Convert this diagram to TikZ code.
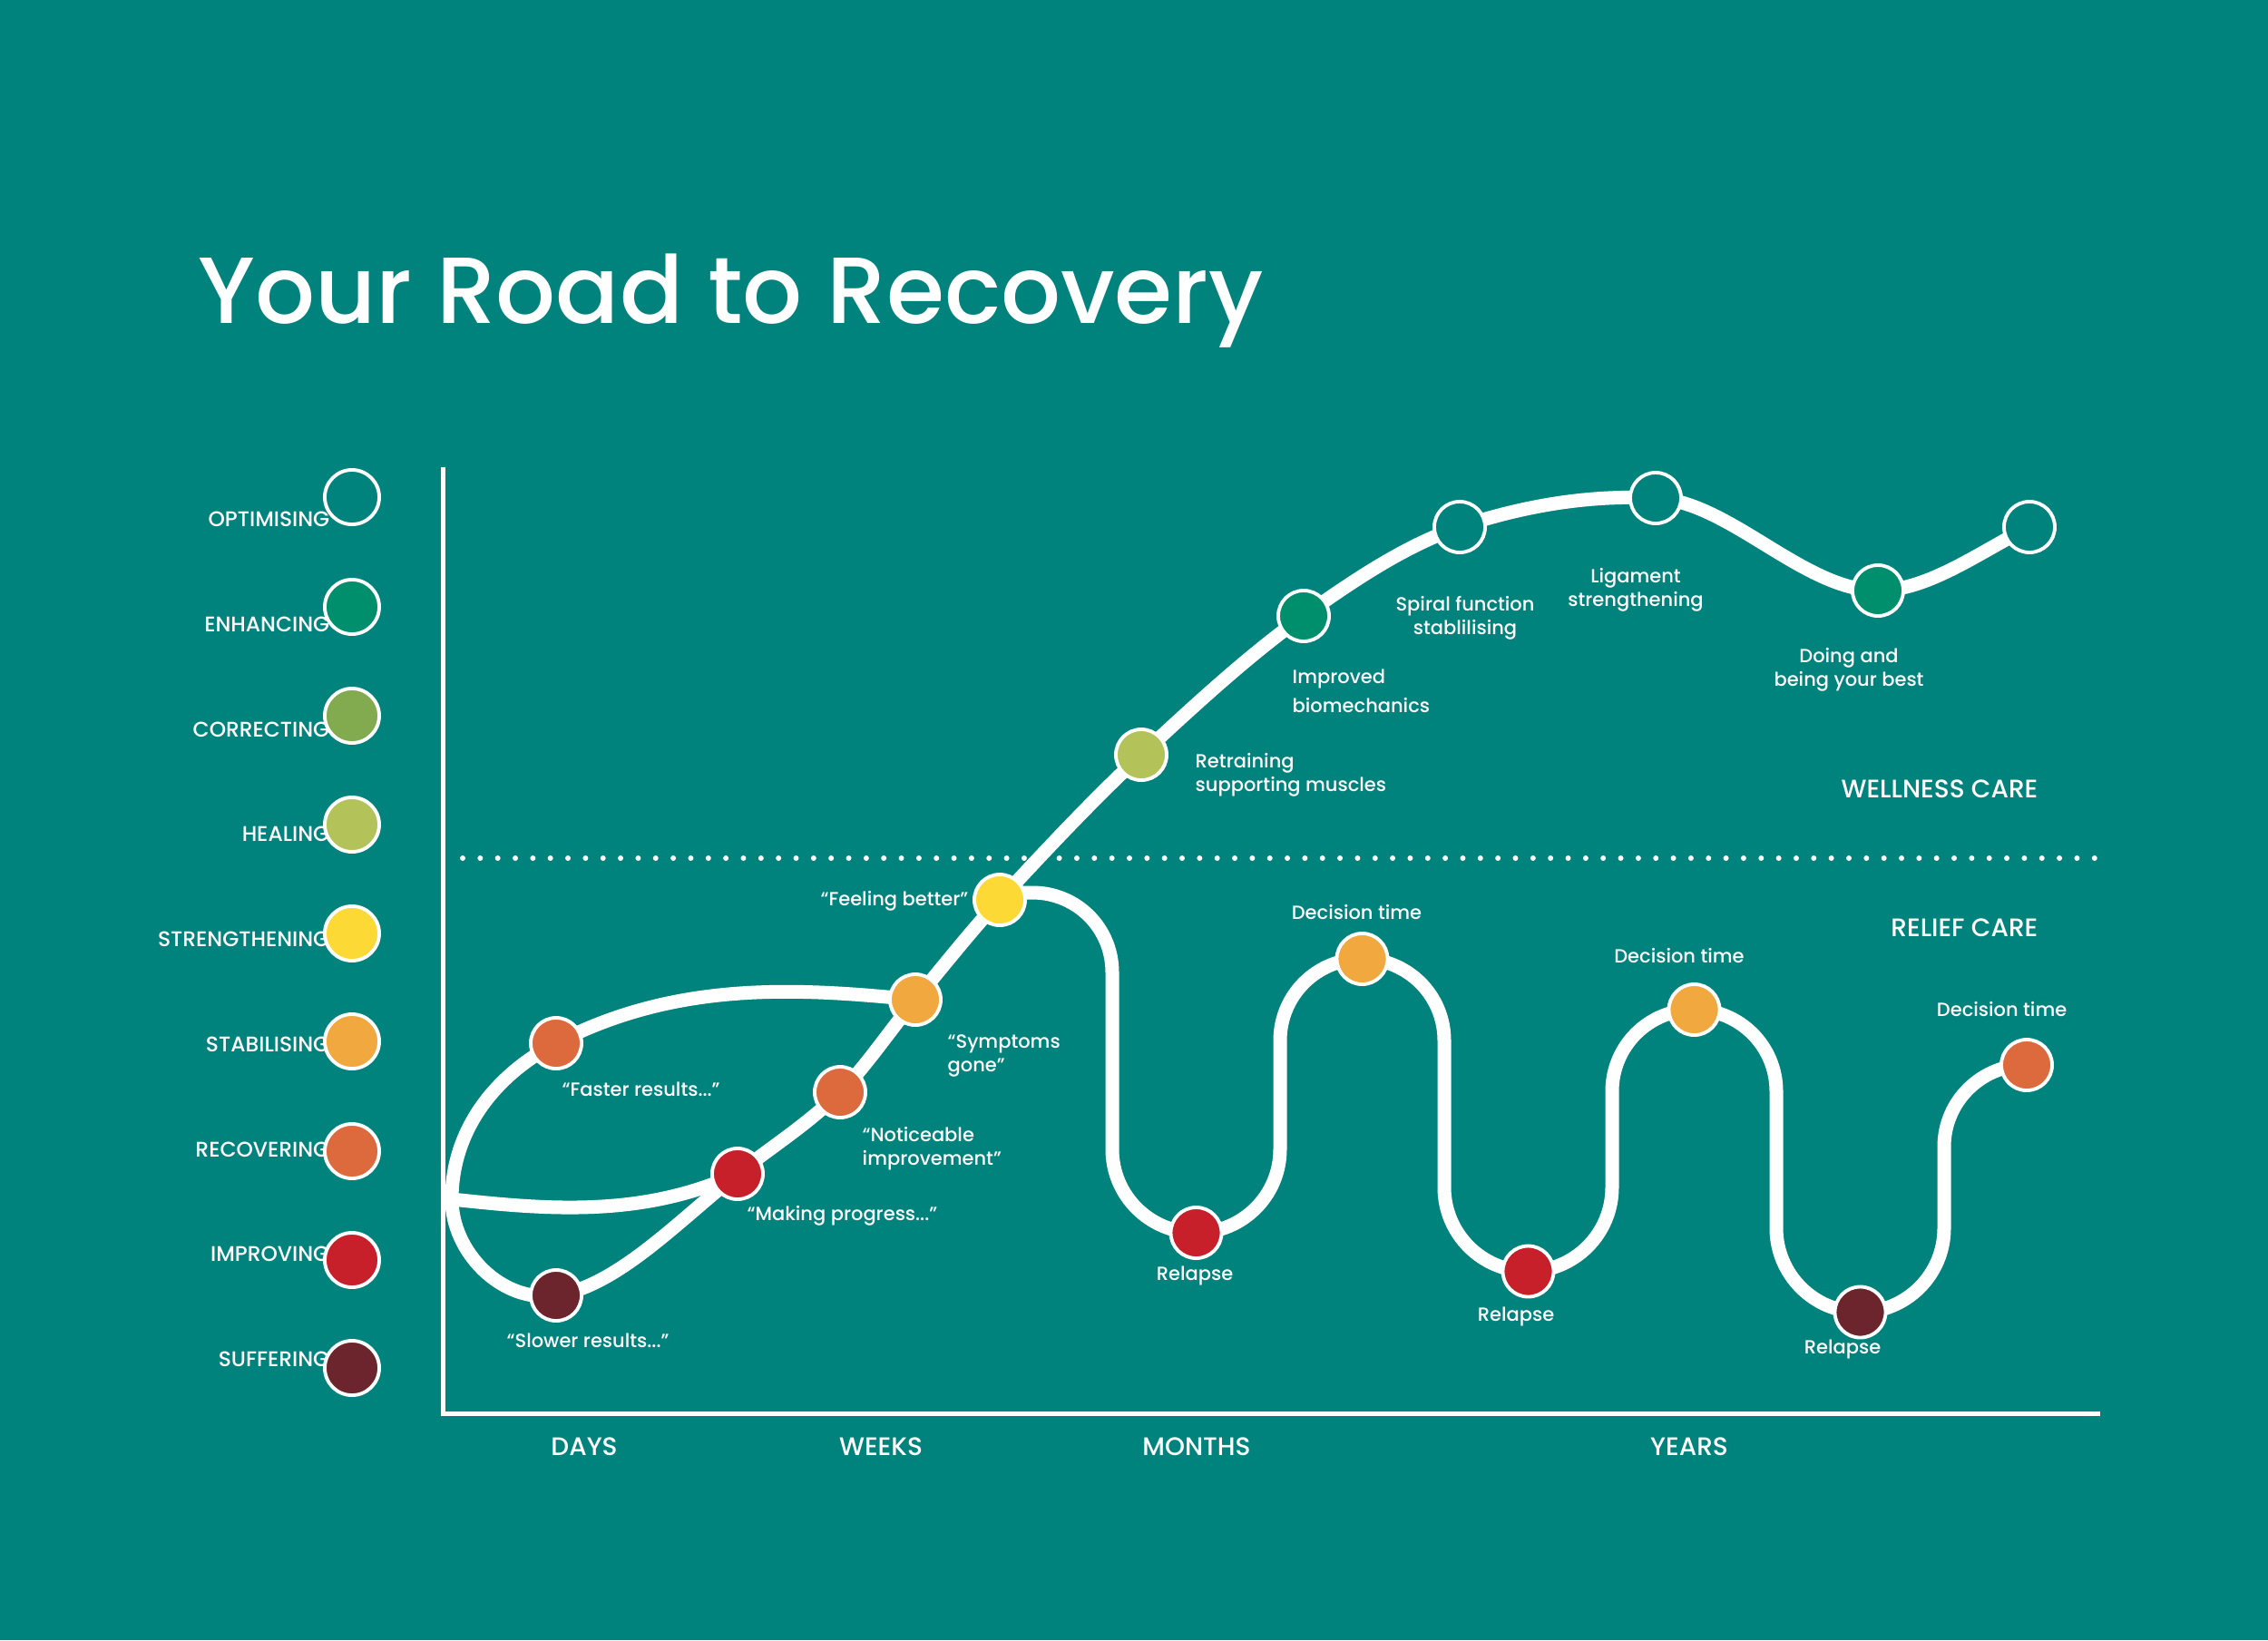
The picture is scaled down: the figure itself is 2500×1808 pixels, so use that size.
\documentclass[tikz,border=0pt]{standalone}
\usepackage{fontspec}
\setmainfont{Poppins}[UprightFont=* Medium]
\newfontfamily\popreg{Poppins}
\pgfdeclarelayer{back}
\pgfdeclarelayer{roads}
\pgfsetlayers{back,roads,main}
\definecolor{bgteal}{HTML}{00827D}
\definecolor{cEnh}{HTML}{008F6C}
\definecolor{cCor}{HTML}{82AA4F}
\definecolor{cHeal}{HTML}{B3C35A}
\definecolor{cStr}{HTML}{FDD935}
\definecolor{cStab}{HTML}{F0A83F}
\definecolor{cRec}{HTML}{DC6A3C}
\definecolor{cImp}{HTML}{C7202B}
\definecolor{cSuf}{HTML}{6C242D}
\tikzset{
  road/.style={draw=white, line width=4.27pt, line cap=round, line join=round},
  dot/.style={circle, draw=white, line width=1.1pt, minimum size=0.56cm, inner sep=0pt},
  legdot/.style={circle, draw=white, line width=1.1pt, minimum size=0.6cm, inner sep=0pt},
  leglbl/.style={text=white, anchor=east, inner sep=0pt, font=\fontsize{6.65}{8}\selectfont},
  lbl/.style={text=white, inner sep=0pt, align=left, font=\fontsize{5.97}{7.3}\selectfont},
  clbl/.style={lbl, align=center},
  carelbl/.style={text=white, anchor=east, inner sep=0pt, font=\fontsize{7.95}{9.5}\selectfont},
  axlbl/.style={text=white, inner sep=0pt, font=\fontsize{7.95}{9.5}\selectfont},
}
\begin{document}
\begin{tikzpicture}[x=0.01cm,y=-0.01cm]
\begin{pgfonlayer}{back}
\fill[bgteal] (0,0) rectangle (2500,1808);
\draw[white, line width=1.7pt, line cap=round, dash pattern=on 0pt off 5.5pt] (510,946) -- (2310,946);
\end{pgfonlayer}

% title
\node[text=white, anchor=base west, inner sep=0pt, font=\fontsize{29.45}{36}\selectfont] (title) at (218,356) {Your Road to Recovery};

% axes
\coordinate (axtop) at (488,515);
\coordinate (axorg) at (488,1558);
\coordinate (axend) at (2315,1558);
\draw[white, line width=1.42pt] (axtop) -- (axorg) -- (axend);

% legend labels
\node[leglbl] (lt1) at (364,572.5) {OPTIMISING};
\node[leglbl] (lt2) at (364,688.5) {ENHANCING};
\node[leglbl] (lt3) at (364,804.5) {CORRECTING};
\node[leglbl] (lt4) at (364,919.5) {HEALING};
\node[leglbl] (lt5) at (364,1035.5) {STRENGTHENING};
\node[leglbl] (lt6) at (364,1151.5) {STABILISING};
\node[leglbl] (lt7) at (364,1267.5) {RECOVERING};
\node[leglbl] (lt8) at (364,1382.5) {IMPROVING};
\node[leglbl] (lt9) at (364,1498.5) {SUFFERING};
% legend dots
\node[legdot, fill=bgteal] (leg1) at (388,548) {};
\node[legdot, fill=cEnh] (leg2) at (388,669) {};
\node[legdot, fill=cCor] (leg3) at (388,789) {};
\node[legdot, fill=cHeal] (leg4) at (388,909) {};
\node[legdot, fill=cStr] (leg5) at (388,1029) {};
\node[legdot, fill=cStab] (leg6) at (388,1148) {};
\node[legdot, fill=cRec] (leg7) at (388,1269) {};
\node[legdot, fill=cImp] (leg8) at (388,1389) {};
\node[legdot, fill=cSuf] (leg9) at (388,1508) {};

% road dots
\coordinate (junc) at (498,1322);
\node[dot, fill=cRec] (fr) at (613,1150) {};
\node[dot, fill=cSuf] (sr) at (613,1428) {};
\node[dot, fill=cImp] (mp) at (813,1294) {};
\node[dot, fill=cRec] (nt) at (926,1204) {};
\node[dot, fill=cStab] (st) at (1009,1102) {};
\node[dot, fill=cStr] (fb) at (1102,992) {};
\node[dot, fill=cHeal] (rt) at (1258,832) {};
\node[dot, fill=cEnh] (ib) at (1437,679) {};
\node[dot, fill=bgteal] (sf) at (1609,581) {};
\node[dot, fill=bgteal] (lig) at (1825,549) {};
\node[dot, fill=cEnh] (db) at (2070,651) {};
\node[dot, fill=bgteal] (ls) at (2237,581) {};
\node[dot, fill=cImp] (rl1) at (1318.5,1359) {};
\node[dot, fill=cStab] (dt1) at (1501.5,1057) {};
\node[dot, fill=cImp] (rl2) at (1684.5,1401.5) {};
\node[dot, fill=cStab] (dt2) at (1867.5,1113) {};
\node[dot, fill=cSuf] (rl3) at (2050.5,1446.5) {};
\node[dot, fill=cRec] (dt3) at (2234,1174) {};

\begin{pgfonlayer}{roads}
% main road
\draw[road] (mp.center) .. controls (850.7,1263.8) and (888.3,1241) .. (nt.center)
 .. controls (953.7,1176.9) and (981.3,1135.2) .. (st.center)
 .. controls (1040,1064.8) and (1071,1025.5) .. (fb.center)
 .. controls (1154,935.8) and (1206,880.4) .. (rt.center)
 .. controls (1317.7,776.5) and (1377.3,721.7) .. (ib.center)
 .. controls (1494.3,638) and (1551.7,600.2) .. (sf.center)
 .. controls (1681,556.9) and (1753,545.4) .. (lig.center)
 .. controls (1906.7,553) and (1988.3,651) .. (db.center)
 .. controls (2125.7,651) and (2181.3,608.9) .. (ls.center);
% leaf
\draw[road] (st.center) .. controls (877,1088.8) and (745,1081.4) .. (fr.center)
 .. controls (546.5,1184.6) and (498,1245) .. (junc)
 .. controls (498,1380) and (553,1437) .. (sr.center)
 .. controls (679.7,1418) and (746.3,1347.4) .. (mp.center);
\draw[road] (junc) .. controls (600,1333) and (707,1343) .. (mp.center);
% relief
\draw[road] (fb.center) -- (1102,984) -- (1138,984) .. controls (1187,984) and (1226,1023) .. (1226,1072)
 -- (1226,1267) .. controls (1226,1318) and (1267.5,1359) .. (rl1.center)
 .. controls (1369.5,1359) and (1411,1318) .. (1411,1267)
 -- (1411,1147) .. controls (1411,1097) and (1451.5,1057) .. (dt1.center)
 .. controls (1551.5,1057) and (1592,1097) .. (1592,1147)
 -- (1592,1309) .. controls (1592,1360) and (1633.5,1401.5) .. (rl2.center)
 .. controls (1735.5,1401.5) and (1777,1360) .. (1777,1309)
 -- (1777,1203) .. controls (1777,1153) and (1817.5,1113) .. (dt2.center)
 .. controls (1917.5,1113) and (1958,1153) .. (1958,1203)
 -- (1958,1354) .. controls (1958,1405) and (1999.5,1446.5) .. (rl3.center)
 .. controls (2101.5,1446.5) and (2143,1405) .. (2143,1354)
 -- (2143,1264) .. controls (2143,1214) and (2184,1174) .. (dt3.center);
\end{pgfonlayer}

% road labels
\node[lbl, anchor=west] (lfr) at (619,1200.5) {“Faster results...”};
\node[lbl, anchor=west] (lsr) at (558,1477.5) {“Slower results...”};
\node[lbl, anchor=west] (lmp) at (823,1340.5) {“Making progress...”};
\node[lbl, anchor=west] (lnt) at (950,1266) {“Noticeable\\improvement”};
\node[lbl, anchor=west] (lst) at (1044,1164) {“Symptoms\\gone”};
\node[lbl, anchor=east] (lfb) at (1068,993) {“Feeling better”};
\node[lbl, anchor=west] (lrt) at (1317,854) {Retraining\\supporting muscles};
\node[lbl, anchor=west] (lib) at (1424,762) {Improved\\[1.8pt]biomechanics};
\node[clbl] (lsf) at (1615,681) {Spiral function\\stablilising};
\node[clbl] (llig) at (1803,650) {Ligament\\strengthening};
\node[clbl] (ldb) at (2038,738) {Doing and\\being your best};
\node[clbl] (ldt1) at (1495.5,1005) {Decision time};
\node[clbl] (ldt2) at (1851,1053) {Decision time};
\node[clbl] (ldt3) at (2206.6,1112) {Decision time};
\node[clbl] (lrl1) at (1317,1406) {Relapse};
\node[clbl] (lrl2) at (1671,1451) {Relapse};
\node[clbl] (lrl3) at (2031,1487) {Relapse};

\node[carelbl] (wc) at (2247,870) {WELLNESS CARE};
\node[carelbl] (rc) at (2247,1023) {RELIEF CARE};

\node[axlbl] (ax1) at (644,1595) {DAYS};
\node[axlbl] (ax2) at (971,1595) {WEEKS};
\node[axlbl] (ax3) at (1319,1595) {MONTHS};
\node[axlbl] (ax4) at (1862,1595) {YEARS};
\end{tikzpicture}
\end{document}
